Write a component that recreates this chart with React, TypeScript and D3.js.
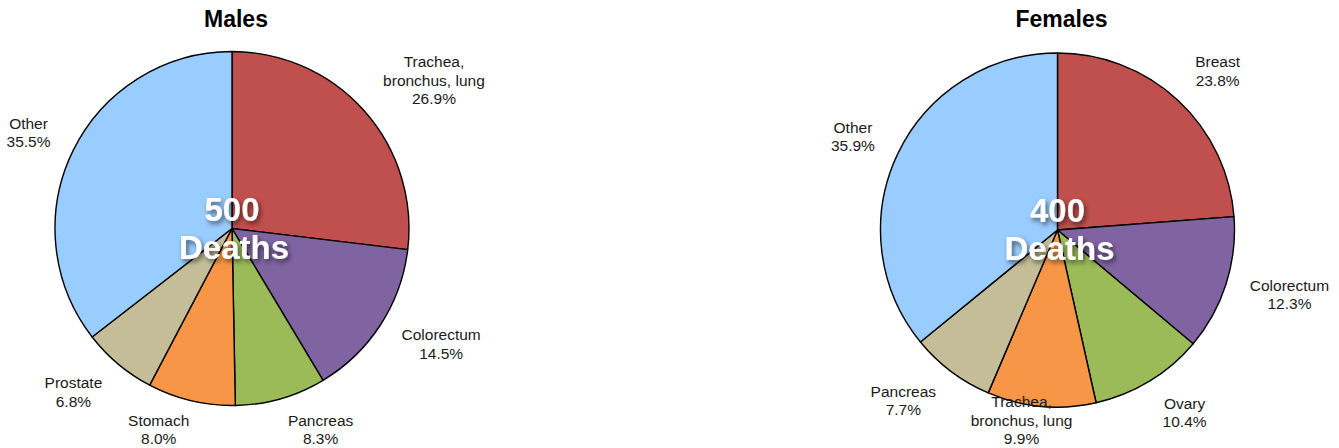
import * as d3 from "d3";
import React from "react";

// Deaths by cause, share of total (%)
const maleCauses = ["Trachea,\nbronchus, lung", "Colorectum", "Pancreas", "Stomach", "Prostate", "Other"];
const maleShares = [26.9, 14.5, 8.3, 8.0, 6.8, 35.5];
const maleTotal = 500;

const femaleCauses = ["Breast", "Colorectum", "Ovary", "Trachea,\nbronchus, lung", "Pancreas", "Other"];
const femaleShares = [23.8, 12.3, 10.4, 9.9, 7.7, 35.9];
const femaleTotal = 400;

const sliceColors = ["#C0504D", "#8064A2", "#9BBB59", "#F79646", "#C4BD97", "#99CCFF"];

const W = 1339;
const H = 448;
const R = 177;
const FONT = "'Liberation Sans', Arial, Helvetica, sans-serif";

interface PanelSpec {
  title: string;
  causes: string[];
  shares: number[];
  total: number;
  cx: number;
  cy: number;
}

const panels: PanelSpec[] = [
  { title: "Males", causes: maleCauses, shares: maleShares, total: maleTotal, cx: 232, cy: 228.5 },
  { title: "Females", causes: femaleCauses, shares: femaleShares, total: femaleTotal, cx: 1057.5, cy: 230 },
];

const App = (): React.ReactElement => {
  const chartRef = React.useRef<SVGSVGElement>(null);

  React.useEffect(() => {
    const svg = d3.select(chartRef.current);
    svg.selectAll("*").remove();
    svg.attr("width", W).attr("height", H).style("font-family", FONT);

    const defs = svg.append("defs");
    const filter = defs
      .append("filter")
      .attr("id", "centerShadow")
      .attr("x", "-30%")
      .attr("y", "-30%")
      .attr("width", "160%")
      .attr("height", "160%");
    filter
      .append("feDropShadow")
      .attr("dx", 2)
      .attr("dy", 3)
      .attr("stdDeviation", 2.5)
      .attr("flood-color", "#000")
      .attr("flood-opacity", 0.55);

    const pie = d3
      .pie<number>()
      .value((d) => d)
      .sort(null);
    const arc = d3.arc<d3.PieArcDatum<number>>().innerRadius(0).outerRadius(R);

    panels.forEach((p) => {
      const g = svg.append("g").attr("transform", `translate(${p.cx}, ${p.cy})`);
      const arcs = pie(p.shares);

      // Slices
      g.selectAll("path.slice")
        .data(arcs)
        .enter()
        .append("path")
        .attr("class", "slice")
        .attr("d", arc)
        .attr("fill", (_, i) => sliceColors[i])
        .attr("stroke", "#000")
        .attr("stroke-width", 1.4)
        .attr("stroke-linejoin", "round");

      // Title
      svg
        .append("text")
        .attr("x", p.cx + 4)
        .attr("y", 27)
        .attr("text-anchor", "middle")
        .attr("font-size", 23)
        .attr("font-weight", "bold")
        .attr("fill", "#000")
        .text(p.title);

      // Outside labels: box corner nearest the pie sits on a ring round it
      const lineH = 18.5;
      arcs.forEach((a, i) => {
        const lines = p.causes[i].split("\n").concat([`${p.shares[i].toFixed(1)}%`]);
        const mid = (a.startAngle + a.endAngle) / 2;
        const sin = Math.sin(mid);
        const cos = Math.cos(mid);

        const t = g
          .append("text")
          .attr("text-anchor", "middle")
          .attr("font-size", 15.5)
          .attr("fill", "#1a1a1a");
        lines.forEach((ln, k) => {
          t.append("tspan").attr("x", 0).attr("y", k * lineH).text(ln);
        });

        const bb = (t.node() as SVGTextElement).getBBox();
        const w = bb.width;
        const h = lines.length * lineH;
        const dist = R + 25;
        const hx = Math.max(-1, Math.min(1, sin * 3.8));
        let bx = dist * sin + (w / 2) * hx;
        let by = -dist * cos - (h / 2) * cos * 0.7;
        // keep the box inside the picture
        const maxBy = H - p.cy - h / 2 + 1;
        if (by > maxBy) by = maxBy;
        const minBx = -p.cx + w / 2 + 2;
        if (bx < minBx) bx = minBx;
        const y0 = by - h / 2 + 13.5;
        t.attr("transform", `translate(${bx}, ${y0})`);
      });

      // Center total
      const c = g
        .append("text")
        .attr("text-anchor", "middle")
        .attr("font-size", 33)
        .attr("font-weight", "bold")
        .attr("fill", "#fff")
        .attr("filter", "url(#centerShadow)");
      c.append("tspan").attr("x", 0).attr("y", -8).text(String(p.total));
      c.append("tspan").attr("x", 2).attr("y", 30).text("Deaths");
    });
  }, []);

  return (
    <div style={{ position: "absolute", left: 0, top: 0, background: "#fff" }}>
      <svg ref={chartRef}></svg>
    </div>
  );
};

export default App;
